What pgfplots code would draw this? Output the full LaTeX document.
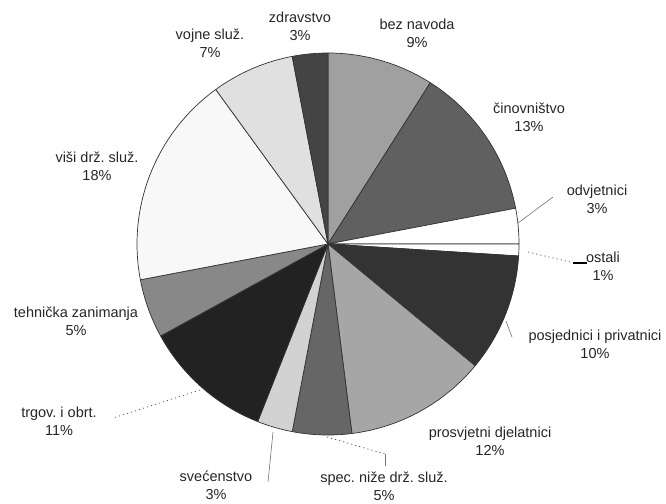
\documentclass[border=0pt]{standalone}
\usepackage{pgfplots}
\usepackage{pgfplotstable}
\pgfplotsset{compat=1.18}
\usepackage{fontspec}
\setmainfont{Liberation Sans}
\frenchspacing

% share of each group in %, grey level of its slice (0-255), clockwise from the top
\pgfplotstableread{
pct grey
9   160
13  96
3   255
1   255
10  51
12  166
5   102
3   210
11  34
5   136
18  248
7   224
3   68
}\slices

\def\cx{328}
\def\cy{244}
\def\rad{191}

\begin{document}
\begin{tikzpicture}
\begin{axis}[
  name=pie,
  width=666pt, height=503pt, scale only axis,
  xmin=0, xmax=666, ymin=0, ymax=503,
  y dir=reverse,
  hide axis, clip=false,
]
\pgfplotstablegetrowsof{\slices}
\pgfmathtruncatemacro\N{\pgfplotsretval-1}
\def\cum{0}
\pgfplotsforeachungrouped \i in {0,...,\N}{
  \pgfplotstablegetelem{\i}{pct}\of\slices \let\p\pgfplotsretval
  \pgfplotstablegetelem{\i}{grey}\of\slices \let\g\pgfplotsretval
  \pgfmathsetmacro\a{3.6*\cum}
  \pgfmathsetmacro\b{3.6*(\cum+\p)}
  \edef\doslice{\noexpand\addplot[fill={rgb,255:red,\g;green,\g;blue,\g},
      draw=black!80, line width=0.7pt, line join=round,
      domain=\a:\b, samples=60, variable=\noexpand\t]
    ({\cx+\rad*sin(\noexpand\t)},{\cy-\rad*cos(\noexpand\t)})
    -- (axis cs:\cx,\cy) -- cycle;}
  \doslice
  \pgfmathsetmacro\cum{\cum+\p}
}

% leader lines
\draw[black!55, line width=0.6pt] (axis cs:518,223) -- (axis cs:553,197);
\draw[black!70, line width=0.7pt, dash pattern=on 1.2pt off 3pt] (axis cs:528,252) -- (axis cs:570,262);
\draw[black, line width=1.2pt] (axis cs:573,263) -- (axis cs:587,263);
\draw[black!55, line width=0.6pt] (axis cs:506,321) -- (axis cs:512,337);
\draw[black!70, line width=0.7pt, dash pattern=on 1.2pt off 3pt] (axis cs:200,390) -- (axis cs:113,418);
\draw[black!70, line width=0.7pt, dash pattern=on 1.2pt off 3pt] (axis cs:327,437) -- (axis cs:385,454);
\draw[black!55, line width=0.6pt] (axis cs:385,454) -- (axis cs:385,466);
\draw[black!55, line width=0.6pt] (axis cs:273,432) -- (axis cs:268,482);

% labels
\tikzset{lbl/.style={align=center, inner sep=0pt, text=black!85,
  font=\fontsize{14.5}{18}\selectfont}}
\node[lbl] at (axis cs:417,33.5) {bez navoda\\9\%};
\node[lbl] at (axis cs:529,117) {činovništvo\\13\%};
\node[lbl] at (axis cs:597,199) {odvjetnici\\3\%};
\node[lbl] at (axis cs:603,266) {ostali\\1\%};
\node[lbl] at (axis cs:595,344) {posjednici i privatnici\\10\%};
\node[lbl] at (axis cs:490,441) {prosvjetni djelatnici\\12\%};
\node[lbl] at (axis cs:384,486.5) {spec. niže drž. služ.\\5\%};
\node[lbl] at (axis cs:216,485.5) {svećenstvo\\3\%};
\node[lbl] at (axis cs:59,421) {trgov. i obrt.\\11\%};
\node[lbl] at (axis cs:76,321) {tehnička zanimanja\\5\%};
\node[lbl] at (axis cs:97,166) {viši drž. služ.\\18\%};
\node[lbl] at (axis cs:210,43.5) {vojne služ.\\7\%};
\node[lbl] at (axis cs:300,26.5) {zdravstvo\\3\%};
\end{axis}
\pgfresetboundingbox
\useasboundingbox (pie.south west) rectangle (pie.north east);
\end{tikzpicture}
\end{document}
